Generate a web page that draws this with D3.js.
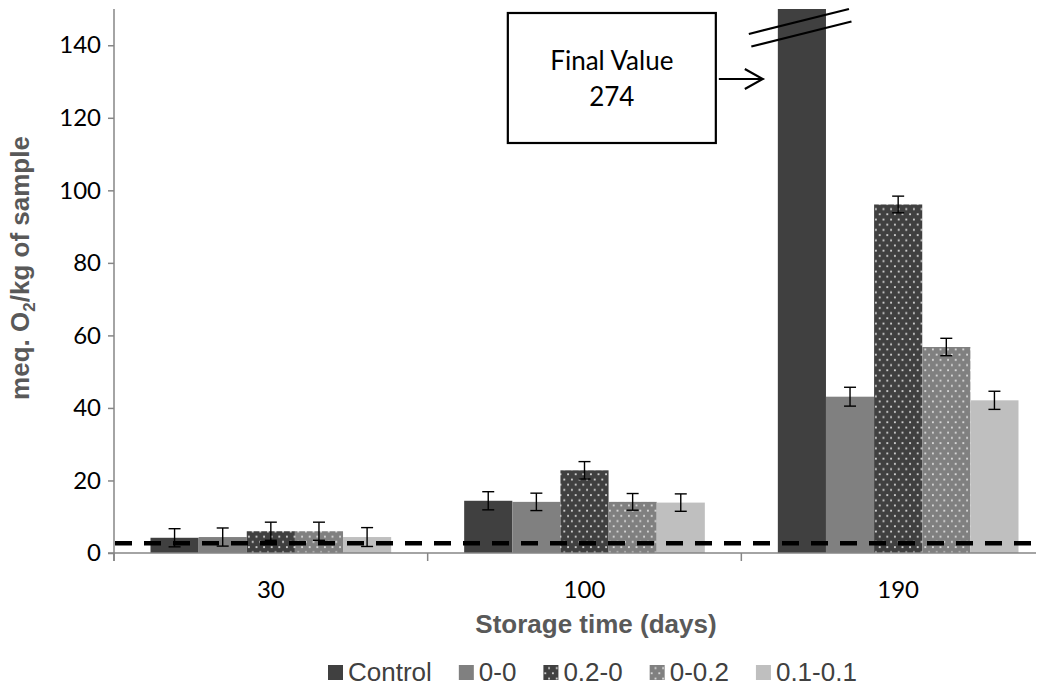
<!DOCTYPE html>
<html>
<head>
<meta charset="utf-8">
<script src="https://cdn.jsdelivr.net/npm/d3@7"></script>
<style>
  body { margin: 0; background: #fff; }
  svg { display: block; }
</style>
</head>
<body>
<svg width="1044" height="687"></svg>
<script>
// data
const categories = ["30", "100", "190"];
const series = ["Control", "0-0", "0.2-0", "0-0.2", "0.1-0.1"];
const values = {
  "Control": [4.2, 14.4, 274],
  "0-0":     [4.4, 14.1, 43.1],
  "0.2-0":   [6.0, 22.8, 96.1],
  "0-0.2":   [6.0, 14.1, 56.8],
  "0.1-0.1": [4.4, 13.9, 42.1]
};
const errors = {
  "Control": [2.5, 2.5, 0],
  "0-0":     [2.5, 2.4, 2.6],
  "0.2-0":   [2.5, 2.4, 2.3],
  "0-0.2":   [2.5, 2.3, 2.4],
  "0.1-0.1": [2.6, 2.4, 2.5]
};
const yTicks = [0, 20, 40, 60, 80, 100, 120, 140];
const yMax = 150;
const refLine = 2.67;
const finalValue = 274;

const svg = d3.select("svg");
const margin = {top: 9, left: 114};
const plotW = 941, plotH = 544;
const visibleW = 922; // the picture is cut off on the right
const g = svg.append("g").attr("transform", `translate(${margin.left},${margin.top})`);

const x0 = d3.scaleBand().domain(categories).range([0, plotW]).padding(0);
const x1 = d3.scaleBand().domain(series).range([36.5, x0.bandwidth() - 36.5]).padding(0);
const y = d3.scaleLinear().domain([0, yMax]).range([plotH, 0]);

// fills
const fills = {
  "Control": "#404040",
  "0-0": "#808080",
  "0.2-0": "url(#dotsDark)",
  "0-0.2": "url(#dotsMid)",
  "0.1-0.1": "#bfbfbf"
};
const defs = svg.append("defs");
function dotPattern(id, bg, dot) {
  const p = defs.append("pattern").attr("id", id)
    .attr("patternUnits", "userSpaceOnUse")
    .attr("width", 7.6).attr("height", 10.4);
  p.append("rect").attr("width", 7.6).attr("height", 10.4).attr("fill", bg);
  p.append("rect").attr("x", 1).attr("y", 1.6).attr("width", 1.8).attr("height", 1.8).attr("fill", dot);
  p.append("rect").attr("x", 4.8).attr("y", 6.8).attr("width", 1.8).attr("height", 1.8).attr("fill", dot);
}
dotPattern("dotsDark", "#404040", "#d9d9d9");
dotPattern("dotsMid", "#808080", "#dedede");

defs.append("clipPath").attr("id", "plotClip")
  .append("rect").attr("x", 0).attr("y", 0).attr("width", visibleW).attr("height", plotH);
defs.append("clipPath").attr("id", "rightCut")
  .append("rect").attr("x", -200).attr("y", -20).attr("width", visibleW + 200).attr("height", plotH + 100);

// bars
const rows = [];
categories.forEach((c, i) => {
  series.forEach(s => rows.push({cat: c, s: s, v: values[s][i], e: errors[s][i]}));
});

const plot = g.append("g").attr("clip-path", "url(#plotClip)");
plot.selectAll(".bar").data(rows).enter().append("rect")
  .attr("class", "bar")
  .attr("x", d => x0(d.cat) + x1(d.s))
  .attr("y", d => y(d.v))
  .attr("width", x1.bandwidth())
  .attr("height", d => y(0) - y(d.v))
  .attr("fill", d => fills[d.s]);

// axes
const axisColor = "#868686";
const cut = g.append("g").attr("clip-path", "url(#rightCut)");
cut.append("line").attr("x1", 0).attr("x2", 0).attr("y1", y(yMax)).attr("y2", plotH + 8)
  .attr("stroke", axisColor).attr("stroke-width", 1.5);
cut.append("line").attr("x1", -6).attr("x2", plotW).attr("y1", plotH).attr("y2", plotH)
  .attr("stroke", axisColor).attr("stroke-width", 1.5);

const yAxis = g.append("g").call(d3.axisLeft(y).tickValues(yTicks).tickSize(6).tickPadding(7));
yAxis.select(".domain").remove();
yAxis.selectAll(".tick line").attr("stroke", axisColor).attr("stroke-width", 1.5);
yAxis.selectAll(".tick text")
  .attr("fill", "#000").style("font-family", "Lato, 'Open Sans', sans-serif").style("font-size", "24px");

// category boundaries and labels
const bounds = categories.map(c => x0(c)).concat([plotW]);
cut.selectAll(".xtick").data(bounds).enter().append("line")
  .attr("x1", d => d).attr("x2", d => d).attr("y1", plotH).attr("y2", plotH + 8)
  .attr("stroke", axisColor).attr("stroke-width", 1.5);
g.selectAll(".xlab").data(categories).enter().append("text")
  .attr("x", d => x0(d) + x0.bandwidth() / 2)
  .attr("y", plotH + 45)
  .attr("text-anchor", "middle")
  .style("font-family", "Lato, 'Open Sans', sans-serif").style("font-size", "24px")
  .attr("fill", "#000")
  .text(d => d);

// dashed reference line
cut.append("line").attr("x1", 1).attr("x2", plotW).attr("y1", y(refLine)).attr("y2", y(refLine))
  .attr("stroke", "#000").attr("stroke-width", 4.5).attr("stroke-dasharray", "17,12");

// error bars
const eb = g.selectAll(".err").data(rows.filter(d => d.e > 0)).enter().append("g");
const cx = d => x0(d.cat) + x1(d.s) + x1.bandwidth() / 2;
eb.append("line").attr("x1", cx).attr("x2", cx).attr("y1", d => y(d.v + d.e)).attr("y2", d => y(d.v - d.e))
  .attr("stroke", "#000").attr("stroke-width", 1.4);
eb.append("line").attr("x1", d => cx(d) - 6).attr("x2", d => cx(d) + 6).attr("y1", d => y(d.v + d.e)).attr("y2", d => y(d.v + d.e))
  .attr("stroke", "#000").attr("stroke-width", 1.4);
eb.append("line").attr("x1", d => cx(d) - 6).attr("x2", d => cx(d) + 6).attr("y1", d => y(d.v - d.e)).attr("y2", d => y(d.v - d.e))
  .attr("stroke", "#000").attr("stroke-width", 1.4);

// axis break on the clipped control bar + annotation box
const bx = x0("190") + x1("Control");
const bw = x1.bandwidth();
[0, 12.5].forEach(off => {
  g.append("line")
    .attr("x1", bx - 29 + off * 0.2).attr("y1", y(yMax) + 25 + off)
    .attr("x2", bx + bw + 23 + off * 0.2).attr("y2", y(yMax) + off)
    .attr("stroke", "#000").attr("stroke-width", 2.2);
});

const boxR = bx - 62, boxL = boxR - 208;
const boxT = y(yMax) + 4, boxB = boxT + 130;
g.append("rect").attr("x", boxL).attr("y", boxT).attr("width", boxR - boxL).attr("height", boxB - boxT)
  .attr("fill", "#fff").attr("stroke", "#000").attr("stroke-width", 2.2);
const boxCx = (boxL + boxR) / 2;
g.append("text").attr("x", boxCx).attr("y", boxT + 57).attr("text-anchor", "middle")
  .style("font-family", "Lato, 'Open Sans', sans-serif").style("font-size", "26px").attr("fill", "#000")
  .text("Final Value");
g.append("text").attr("x", boxCx).attr("y", boxT + 93).attr("text-anchor", "middle")
  .style("font-family", "Lato, 'Open Sans', sans-serif").style("font-size", "26px").attr("fill", "#000")
  .text(finalValue);

const ay = y(yMax) + 70;
const ax1 = boxR + 3, ax2 = bx - 15;
g.append("path")
  .attr("d", `M${ax1},${ay}L${ax2},${ay}M${ax2 - 18},${ay - 10}L${ax2},${ay}L${ax2 - 18},${ay + 10}`)
  .attr("fill", "none").attr("stroke", "#000").attr("stroke-width", 2.2);

// axis titles
svg.append("text")
  .attr("x", 596).attr("y", 633)
  .attr("text-anchor", "middle")
  .style("font-family", "'Liberation Sans', Arial, sans-serif").style("font-size", "26px").style("font-weight", "bold")
  .attr("fill", "#595959")
  .text("Storage time (days)");

const yt = svg.append("text")
  .attr("transform", "translate(29,268) rotate(-90)")
  .attr("text-anchor", "middle")
  .style("font-family", "'Liberation Sans', Arial, sans-serif").style("font-size", "26px").style("font-weight", "bold")
  .attr("fill", "#595959");
yt.append("tspan").text("meq. O");
yt.append("tspan").attr("dy", 6).style("font-size", "17px").text("2");
yt.append("tspan").attr("dy", -6).text("/kg of sample");

// legend
const legend = svg.append("g");
let lx = 328;
series.forEach(s => {
  legend.append("rect").attr("x", lx).attr("y", 665).attr("width", 15).attr("height", 15).attr("fill", fills[s]);
  const t = legend.append("text").attr("x", lx + 20).attr("y", 681)
    .style("font-family", "'Liberation Sans', Arial, sans-serif").style("font-size", "26px")
    .attr("fill", "#404040").text(s);
  lx += 20 + t.node().getComputedTextLength() + 27;
});
</script>
</body>
</html>
